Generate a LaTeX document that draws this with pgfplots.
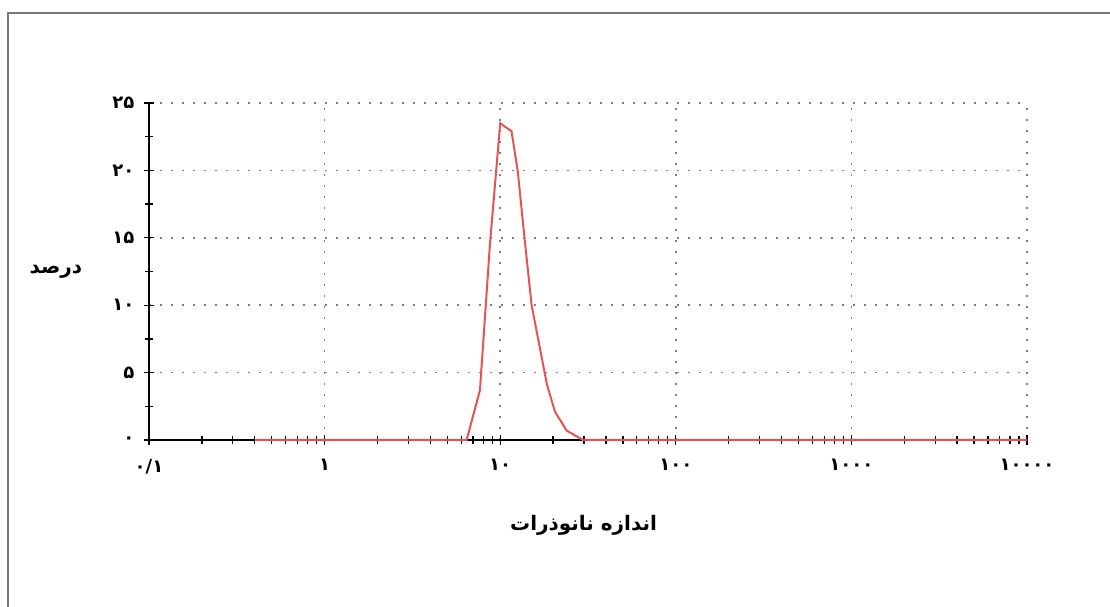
\documentclass[border=0pt]{standalone}
\usepackage{fontspec}
\usepackage{pgfplots}
\pgfplotsset{compat=1.18}
\TeXXeTstate=1
\newfontfamily\arabicfont[Script=Arabic]{DejaVu Sans}
\definecolor{curvered}{RGB}{228,84,84}
\definecolor{gridgray}{RGB}{125,125,125}
\definecolor{framegray}{RGB}{120,120,120}

\begin{document}
\begin{tikzpicture}[x=1pt,y=1pt]
	\path[use as bounding box] (0,0) rectangle (1110,607);
	% outer frame (only top and left are visible)
	\draw[framegray, line width=2.2pt] (8,0) -- (8,594) -- (1110,594);
	\begin{axis}[
		at={(149pt,167pt)}, anchor=south west,
		scale only axis,
		width=878pt, height=337pt,
		xmode=log, log basis x=10,
		xmin=0.1, xmax=10000,
		ymin=0, ymax=25,
		axis x line*=bottom, axis y line*=left,
		axis line style={black, line width=1.5pt},
		xtick={0.1,1,10,100,1000,10000},
		xticklabels={{۰/۱},{۱},{۱۰},{۱۰۰},{۱۰۰۰},{۱۰۰۰۰}},
		minor xtick={0.2,0.3,0.4,0.5,0.6,0.7,0.8,0.9,
			2,3,4,5,6,7,8,9,
			20,30,40,50,60,70,80,90,
			200,300,400,500,600,700,800,900,
			2000,3000,4000,5000,6000,7000,8000,9000},
		ytick={0,5,10,15,20,25},
		yticklabels={{۰},{۵},{۱۰},{۱۵},{۲۰},{۲۵}},
		minor y tick num=1,
		tick align=center,
		major tick length=10pt, minor tick length=8pt,
		tick style={black, line width=1.3pt},
		xmajorgrids=true, ymajorgrids=true,
		major grid style={gridgray, line width=1.6pt, dash pattern=on 1.6pt off 9.4pt},
		ticklabel style={font=\arabicfont\bfseries\fontsize{18}{20}\selectfont},
		xticklabel style={yshift=-11pt},
		yticklabel style={xshift=-6pt},
		xlabel={\arabicfont\bfseries\fontsize{20}{22}\selectfont\beginR اندازه نانوذرات\endR},
		ylabel={\arabicfont\bfseries\fontsize{20}{22}\selectfont\beginR درصد\endR},
		every axis x label/.style={at={(axis description cs:0.495,-0.252)}, anchor=center},
		every axis y label/.style={at={(axis description cs:-0.106,0.5)}, anchor=center, rotate=0},
		clip=false,
	]
		\addplot[curvered, line width=2pt] coordinates {
			(0.4,0) (1,0) (3,0) (6.44,0) (7.67,3.7) (8.75,14.6) (10,23.5)
			(11.6,22.9) (12.6,19.9) (13.8,14.8) (15.1,10) (16.9,6.7) (18.4,4.2)
			(20.5,2.1) (23.9,0.7) (29.6,0) (100,0) (1000,0) (10000,0)
		};
	\end{axis}
\end{tikzpicture}
\end{document}
